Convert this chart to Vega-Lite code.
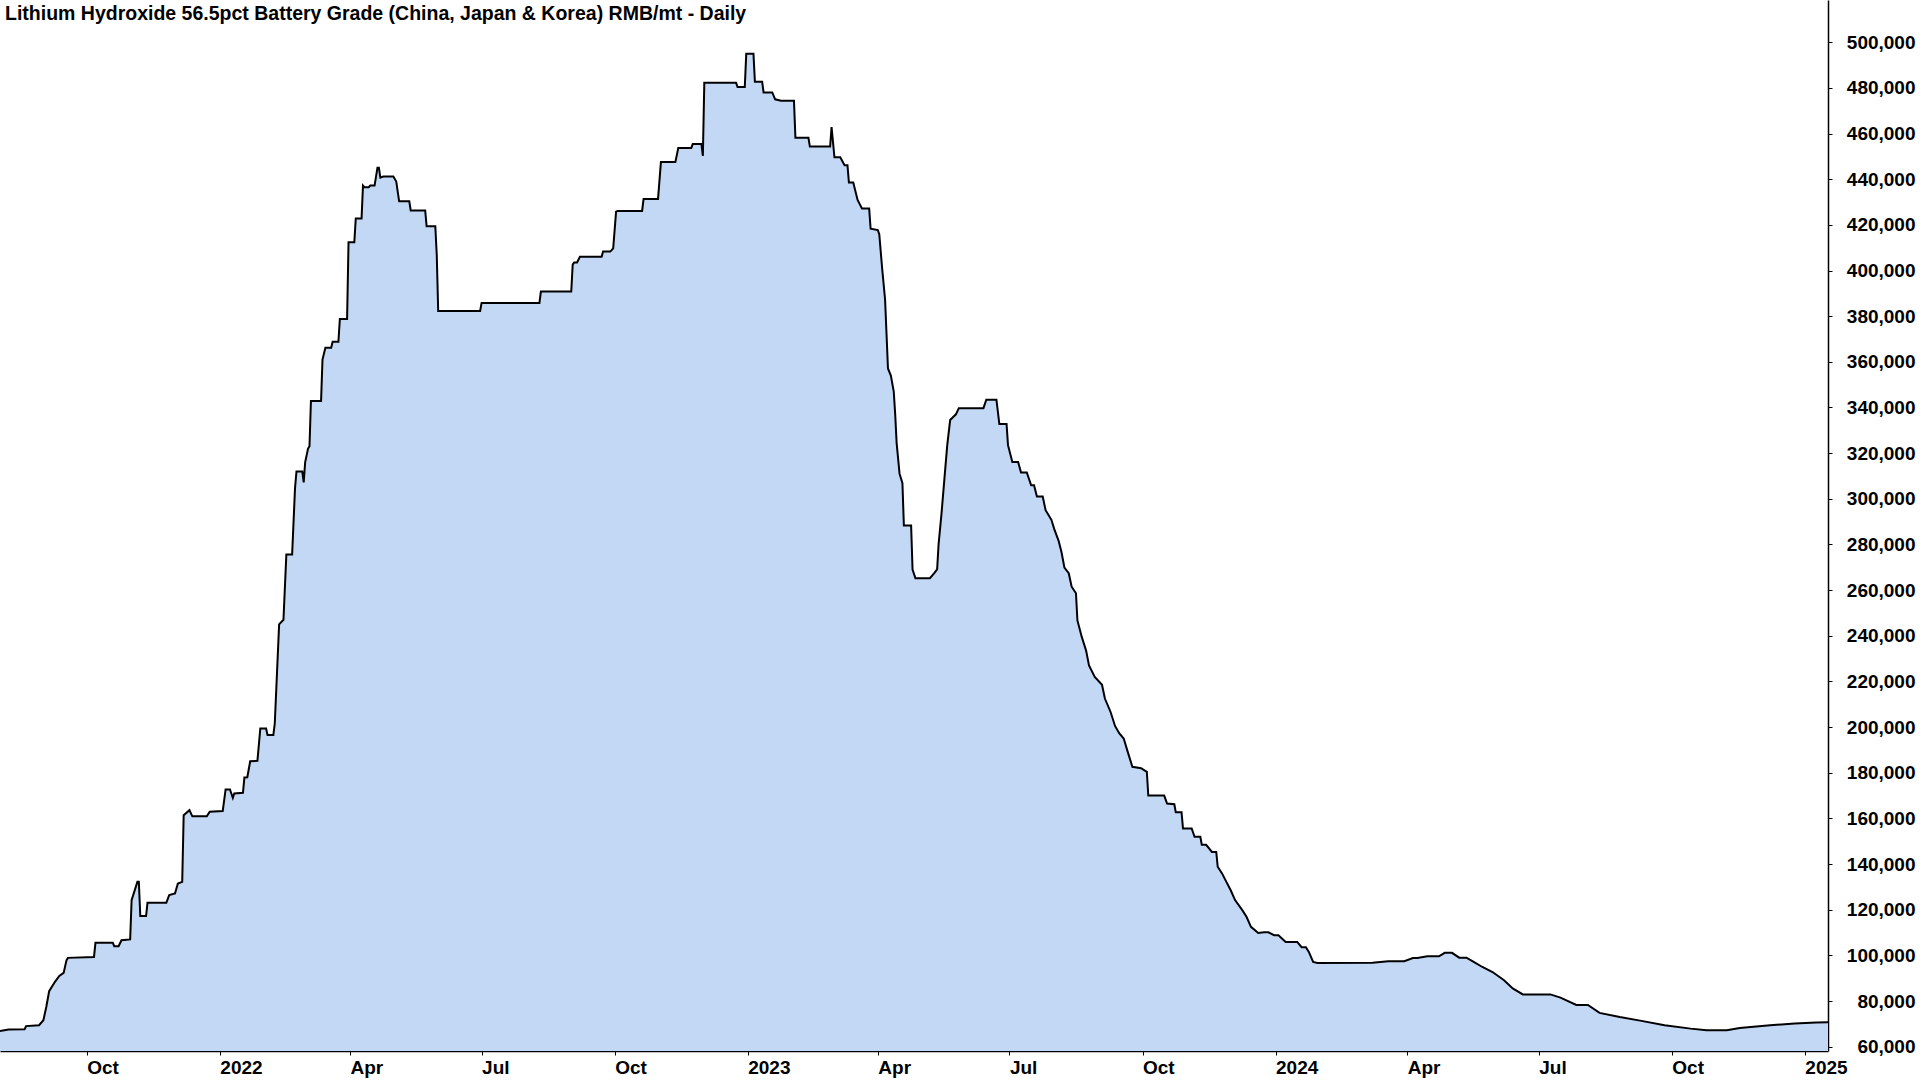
{
"$schema": "https://vega.github.io/schema/vega-lite/v6.json",
"width": 1828,
"height": 1051,
"padding": {"left": 0, "top": 0, "right": 92, "bottom": 29},
"autosize": {"type": "none"},
"background": "white",
"config": {"view": {"stroke": null}, "font": "Liberation Sans"},
"title": {"text": "Lithium Hydroxide 56.5pct Battery Grade (China, Japan & Korea) RMB/mt - Daily", "anchor": "start", "frame": "group", "orient": "top", "offset": 0, "baseline": "alphabetic", "dy": 39, "dx": 5, "font": "Liberation Sans", "fontSize": 19.5, "fontWeight": "bold", "color": "black"},
"data": {"values": [
{"date":"2021/08/02","price":66800},{"date":"2021/08/08","price":67500},{"date":"2021/08/19","price":67600},{"date":"2021/08/20","price":69000},{"date":"2021/08/29","price":69400},{"date":"2021/09/01","price":71600},{"date":"2021/09/03","price":77400},{"date":"2021/09/05","price":84300},{"date":"2021/09/09","price":88400},{"date":"2021/09/12","price":91000},{"date":"2021/09/15","price":92300},{"date":"2021/09/17","price":97900},{"date":"2021/09/18","price":98900},{"date":"2021/10/06","price":99300},{"date":"2021/10/07","price":105500},{"date":"2021/10/19","price":105500},{"date":"2021/10/20","price":104000},{"date":"2021/10/23","price":104000},{"date":"2021/10/25","price":106600},{"date":"2021/10/31","price":107000},{"date":"2021/11/01","price":124200},{"date":"2021/11/05","price":132200},{"date":"2021/11/06","price":132200},{"date":"2021/11/07","price":117200},{"date":"2021/11/11","price":117200},{"date":"2021/11/12","price":123000},{"date":"2021/11/25","price":123000},{"date":"2021/11/27","price":126400},{"date":"2021/12/01","price":127100},{"date":"2021/12/03","price":131500},{"date":"2021/12/06","price":132200},{"date":"2021/12/07","price":161400},{"date":"2021/12/11","price":163600},{"date":"2021/12/13","price":160900},{"date":"2021/12/23","price":160900},{"date":"2021/12/25","price":162900},
{"date":"2022/01/03","price":163200},{"date":"2022/01/05","price":172700},{"date":"2022/01/08","price":172700},{"date":"2022/01/10","price":169000},{"date":"2022/01/11","price":170900},{"date":"2022/01/17","price":171200},{"date":"2022/01/18","price":177900},{"date":"2022/01/20","price":178000},{"date":"2022/01/22","price":185000},{"date":"2022/01/27","price":185200},{"date":"2022/01/29","price":199400},{"date":"2022/02/02","price":199400},{"date":"2022/02/03","price":196500},{"date":"2022/02/07","price":196500},{"date":"2022/02/08","price":201600},{"date":"2022/02/11","price":245000},{"date":"2022/02/14","price":247000},{"date":"2022/02/16","price":275600},{"date":"2022/02/20","price":275600},{"date":"2022/02/22","price":304700},{"date":"2022/02/23","price":312000},{"date":"2022/02/27","price":312000},{"date":"2022/02/28","price":307200},{"date":"2022/03/01","price":316000},{"date":"2022/03/03","price":322000},{"date":"2022/03/04","price":323000},{"date":"2022/03/05","price":342800},{"date":"2022/03/12","price":342800},{"date":"2022/03/13","price":361000},{"date":"2022/03/15","price":366200},{"date":"2022/03/19","price":366200},{"date":"2022/03/20","price":368800},{"date":"2022/03/24","price":368800},{"date":"2022/03/25","price":378800},{"date":"2022/03/30","price":378800},{"date":"2022/03/31","price":412400},{"date":"2022/04/04","price":412400},{"date":"2022/04/05","price":422800},{"date":"2022/04/09","price":422800},{"date":"2022/04/10","price":437200},{"date":"2022/04/11","price":436500},{"date":"2022/04/14","price":436500},{"date":"2022/04/15","price":437200},{"date":"2022/04/18","price":437200},{"date":"2022/04/20","price":445000},{"date":"2022/04/21","price":445000},{"date":"2022/04/22","price":440700},{"date":"2022/04/24","price":441200},{"date":"2022/05/01","price":441200},{"date":"2022/05/03","price":439000},{"date":"2022/05/04","price":434600},{"date":"2022/05/05","price":430300},{"date":"2022/05/12","price":430300},{"date":"2022/05/13","price":426300},{"date":"2022/05/23","price":426300},{"date":"2022/05/24","price":419400},{"date":"2022/05/30","price":419400},{"date":"2022/05/31","price":406900},{"date":"2022/06/01","price":382300},{"date":"2022/06/30","price":382300},{"date":"2022/07/01","price":385800},{"date":"2022/08/10","price":385800},{"date":"2022/08/11","price":390800},{"date":"2022/09/01","price":390800},{"date":"2022/09/02","price":402600},{"date":"2022/09/03","price":403500},{"date":"2022/09/05","price":403500},{"date":"2022/09/07","price":406000},{"date":"2022/09/22","price":406000},{"date":"2022/09/23","price":408300},{"date":"2022/09/28","price":408300},{"date":"2022/09/30","price":409700},{"date":"2022/10/02","price":425800},{"date":"2022/10/03","price":426100},{"date":"2022/10/20","price":426100},{"date":"2022/10/21","price":431300},{"date":"2022/10/31","price":431300},{"date":"2022/11/02","price":447500},{"date":"2022/11/12","price":447500},{"date":"2022/11/14","price":453700},{"date":"2022/11/23","price":453700},{"date":"2022/11/24","price":455400},{"date":"2022/11/30","price":455400},{"date":"2022/12/01","price":450200},{"date":"2022/12/02","price":482200},{"date":"2022/12/24","price":482200},{"date":"2022/12/25","price":480400},{"date":"2022/12/30","price":480400},{"date":"2022/12/31","price":494900},
{"date":"2023/01/05","price":494900},{"date":"2023/01/06","price":482700},{"date":"2023/01/11","price":482700},{"date":"2023/01/12","price":478000},{"date":"2023/01/18","price":478000},{"date":"2023/01/20","price":475000},{"date":"2023/01/24","price":474400},{"date":"2023/02/02","price":474400},{"date":"2023/02/03","price":458200},{"date":"2023/02/12","price":458200},{"date":"2023/02/13","price":454300},{"date":"2023/02/27","price":454300},{"date":"2023/02/28","price":462800},{"date":"2023/03/02","price":449600},{"date":"2023/03/06","price":449600},{"date":"2023/03/09","price":446100},{"date":"2023/03/11","price":446100},{"date":"2023/03/12","price":438500},{"date":"2023/03/15","price":438500},{"date":"2023/03/18","price":430900},{"date":"2023/03/21","price":427200},{"date":"2023/03/26","price":427200},{"date":"2023/03/27","price":418300},{"date":"2023/04/01","price":417700},{"date":"2023/04/02","price":415800},{"date":"2023/04/04","price":400700},{"date":"2023/04/06","price":387300},{"date":"2023/04/07","price":372300},{"date":"2023/04/08","price":357100},{"date":"2023/04/10","price":354000},{"date":"2023/04/12","price":347000},{"date":"2023/04/13","price":337000},{"date":"2023/04/14","price":324400},{"date":"2023/04/16","price":311000},{"date":"2023/04/18","price":306800},{"date":"2023/04/19","price":288300},{"date":"2023/04/24","price":288300},{"date":"2023/04/25","price":269000},{"date":"2023/04/27","price":265200},{"date":"2023/05/07","price":265200},{"date":"2023/05/10","price":267400},{"date":"2023/05/12","price":269100},{"date":"2023/05/13","price":280000},{"date":"2023/05/15","price":293400},{"date":"2023/05/17","price":308500},{"date":"2023/05/19","price":323600},{"date":"2023/05/21","price":334500},{"date":"2023/05/25","price":337000},{"date":"2023/05/27","price":339700},{"date":"2023/06/13","price":339700},{"date":"2023/06/15","price":343400},{"date":"2023/06/22","price":343400},{"date":"2023/06/24","price":332800},{"date":"2023/06/29","price":332800},{"date":"2023/06/30","price":323500},{"date":"2023/07/03","price":316100},{"date":"2023/07/07","price":316100},{"date":"2023/07/09","price":311500},{"date":"2023/07/13","price":311500},{"date":"2023/07/16","price":305900},{"date":"2023/07/18","price":305900},{"date":"2023/07/20","price":301000},{"date":"2023/07/24","price":301000},{"date":"2023/07/26","price":295000},{"date":"2023/07/30","price":290800},{"date":"2023/08/01","price":286700},{"date":"2023/08/04","price":281600},{"date":"2023/08/06","price":276600},{"date":"2023/08/08","price":269900},{"date":"2023/08/11","price":267400},{"date":"2023/08/13","price":261500},{"date":"2023/08/16","price":258600},{"date":"2023/08/17","price":246700},{"date":"2023/08/20","price":239500},{"date":"2023/08/23","price":233500},{"date":"2023/08/25","price":227000},{"date":"2023/08/29","price":222000},{"date":"2023/09/03","price":218500},{"date":"2023/09/05","price":212500},{"date":"2023/09/09","price":206500},{"date":"2023/09/12","price":200500},{"date":"2023/09/15","price":197200},{"date":"2023/09/18","price":195000},{"date":"2023/09/21","price":188700},{"date":"2023/09/24","price":182600},{"date":"2023/09/30","price":182000},{"date":"2023/10/04","price":180400},{"date":"2023/10/05","price":170000},{"date":"2023/10/16","price":170000},{"date":"2023/10/18","price":166500},{"date":"2023/10/23","price":166200},{"date":"2023/10/24","price":162700},{"date":"2023/10/28","price":162700},{"date":"2023/10/29","price":155600},{"date":"2023/11/04","price":155600},{"date":"2023/11/06","price":151900},{"date":"2023/11/10","price":151900},{"date":"2023/11/11","price":148400},{"date":"2023/11/14","price":148400},{"date":"2023/11/18","price":145300},{"date":"2023/11/21","price":145300},{"date":"2023/11/22","price":138800},{"date":"2023/11/25","price":135900},{"date":"2023/11/28","price":132200},{"date":"2023/12/01","price":128500},{"date":"2023/12/04","price":124200},{"date":"2023/12/09","price":119800},{"date":"2023/12/12","price":116800},{"date":"2023/12/15","price":112500},{"date":"2023/12/20","price":109800},{"date":"2023/12/24","price":110100},{"date":"2023/12/27","price":110100},{"date":"2023/12/31","price":108800},
{"date":"2024/01/03","price":108800},{"date":"2024/01/08","price":105900},{"date":"2024/01/16","price":105900},{"date":"2024/01/19","price":103600},{"date":"2024/01/22","price":103600},{"date":"2024/01/24","price":101500},{"date":"2024/01/27","price":97100},{"date":"2024/01/30","price":96700},{"date":"2024/03/08","price":96800},{"date":"2024/03/19","price":97400},{"date":"2024/03/30","price":97400},{"date":"2024/04/05","price":98800},{"date":"2024/04/08","price":98800},{"date":"2024/04/15","price":99600},{"date":"2024/04/23","price":99600},{"date":"2024/04/27","price":101100},{"date":"2024/05/02","price":101100},{"date":"2024/05/07","price":99000},{"date":"2024/05/12","price":99000},{"date":"2024/05/17","price":97100},{"date":"2024/05/23","price":94900},{"date":"2024/05/30","price":92700},{"date":"2024/06/07","price":89100},{"date":"2024/06/13","price":85500},{"date":"2024/06/20","price":82900},{"date":"2024/07/09","price":82900},{"date":"2024/07/16","price":81500},{"date":"2024/07/27","price":78300},{"date":"2024/08/04","price":78300},{"date":"2024/08/12","price":74800},{"date":"2024/08/26","price":73000},{"date":"2024/09/10","price":71300},{"date":"2024/09/26","price":69400},{"date":"2024/10/14","price":67900},{"date":"2024/10/25","price":67200},{"date":"2024/11/08","price":67200},{"date":"2024/11/17","price":68200},{"date":"2024/12/08","price":69400},{"date":"2024/12/25","price":70100},{"date":"2025/01/09","price":70600},{"date":"2025/01/24","price":70800}
]},
"encoding": {
  "x": {"field": "date", "type": "temporal",
    "scale": {"domain": [{"year":2021,"month":8,"date":2},{"year":2025,"month":1,"date":17}], "nice": false},
    "axis": {"title": null, "orient": "bottom", "grid": false, "tickCount": {"interval": "month", "step": 3}, "labelExpr": "month(datum.value) == 0 ? timeFormat(datum.value, '%Y') : timeFormat(datum.value, '%b')", "labelAlign": "left", "labelBaseline": "top", "labelDx": 4, "labelPadding": 3, "labelFont": "Liberation Sans", "labelFontSize": 19, "labelFontWeight": "bold", "labelColor": "black", "tickColor": "black", "tickSize": 4, "domainColor": "black", "domainWidth": 1.5, "labelOverlap": false, "labelBound": false, "labelFlush": false}},
  "y": {"field": "price", "type": "quantitative",
    "scale": {"domain": [58100, 518500], "nice": false, "zero": false},
    "axis": {"title": null, "orient": "right", "grid": false, "values": [60000,80000,100000,120000,140000,160000,180000,200000,220000,240000,260000,280000,300000,320000,340000,360000,380000,400000,420000,440000,460000,480000,500000], "format": ",d", "labelAlign": "right", "labelBaseline": "middle", "labelPadding": 83, "labelFont": "Liberation Sans", "labelFontSize": 19, "labelFontWeight": "bold", "labelColor": "black", "tickColor": "black", "tickSize": 4, "domainColor": "black", "domainWidth": 1.5, "labelOverlap": false, "labelBound": false, "labelFlush": false}}
},
"layer": [
  {"mark": {"type": "area", "color": "#c3d8f5", "clip": true}},
  {"mark": {"type": "line", "color": "black", "strokeWidth": 2, "clip": true}}
]
}
